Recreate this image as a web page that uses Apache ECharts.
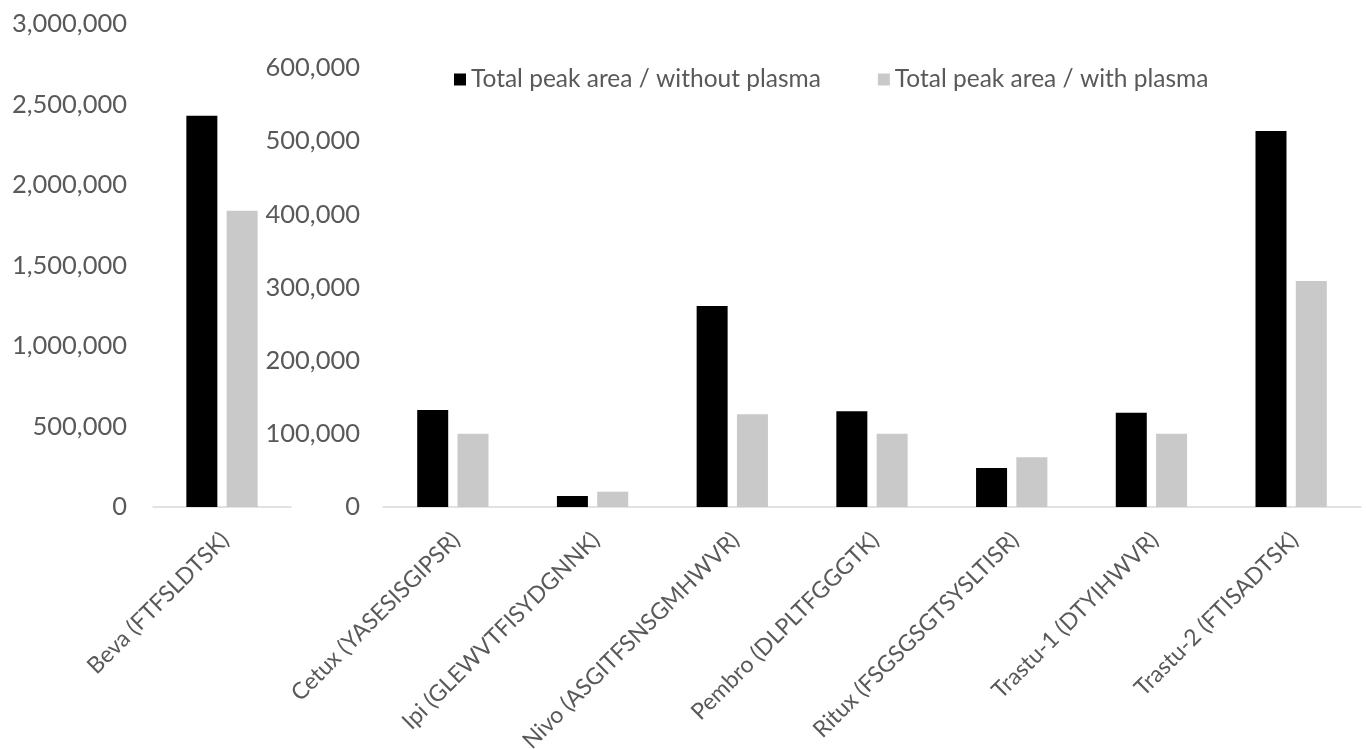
<!DOCTYPE html>
<html>
<head>
<meta charset="utf-8">
<script src="https://cdn.jsdelivr.net/npm/echarts@6/dist/echarts.min.js"></script>
<style>
  html, body { margin: 0; padding: 0; background: #ffffff; }
  #chart { width: 1366px; height: 749px; }
</style>
</head>
<body>
<div id="chart"></div>
<script>
// Peptide categories: Beva on its own scale, the rest share a second scale
const bevaCategories = ['Beva (FTFSLDTSK)'];
const otherCategories = [
  'Cetux (YASESISGIPSR)',
  'Ipi (GLEWVTFISYDGNNK)',
  'Nivo (ASGITFSNSGMHWVR)',
  'Pembro (DLPLTFGGGTK)',
  'Ritux (FSGSGSGTSYSLTISR)',
  'Trastu-1 (DTYIHWVR)',
  'Trastu-2 (FTISADTSK)'
];

const seriesNames = ['Total peak area / without plasma', 'Total peak area / with plasma'];

const bevaWithout = [2430000];
const bevaWith = [1840000];
const otherWithout = [132600, 15000, 274700, 130800, 53300, 128900, 514000];
const otherWith = [100200, 20900, 126700, 100200, 67900, 100200, 309000];

const FONT = 'Lato';
const TEXT = '#595959';
const AXIS = '#d9d9d9';

const fmt = v => Number(v).toLocaleString('en-US');

const chart = echarts.init(document.getElementById('chart'), null, { renderer: 'canvas' });

function xAxisFor(gridIndex, data) {
  return {
    type: 'category',
    gridIndex,
    data,
    axisLine: { lineStyle: { color: AXIS, width: 1.5 } },
    axisTick: { show: false },
    axisLabel: {
      rotate: 45,
      interval: 0,
      margin: 16,
      verticalAlign: 'top',
      padding: [0, 7, 0, 0],
      color: TEXT,
      fontFamily: FONT,
      fontSize: 23
    }
  };
}

function yAxisFor(gridIndex, max, interval, margin) {
  return {
    type: 'value',
    gridIndex,
    min: 0,
    max,
    interval,
    axisLine: { show: false },
    axisTick: { show: false },
    splitLine: { show: false },
    axisLabel: {
      margin,
      color: TEXT,
      fontFamily: FONT,
      fontSize: 25.5,
      formatter: fmt
    }
  };
}

function bars(name, data, color, axisIndex) {
  return {
    name,
    type: 'bar',
    xAxisIndex: axisIndex,
    yAxisIndex: axisIndex,
    data,
    barWidth: 31,
    barGap: '30%',
    itemStyle: { color },
    emphasis: { disabled: true }
  };
}

chart.setOption({
  animation: false,
  backgroundColor: '#ffffff',
  legend: {
    data: seriesNames,
    left: 449,
    top: 62,
    itemWidth: 12,
    itemHeight: 12,
    itemGap: 57,
    icon: 'rect',
    textStyle: { color: TEXT, fontFamily: FONT, fontSize: 24.5 }
  },
  grid: [
    { left: 153, width: 138, top: 24, height: 483, outerBoundsMode: 'none' },
    { left: 383, width: 978, top: 68, height: 439, outerBoundsMode: 'none' }
  ],
  xAxis: [xAxisFor(0, bevaCategories), xAxisFor(1, otherCategories)],
  yAxis: [yAxisFor(0, 3000000, 500000, 26), yAxisFor(1, 600000, 100000, 23)],
  series: [
    bars(seriesNames[0], bevaWithout, '#000000', 0),
    bars(seriesNames[1], bevaWith, '#c9c9c9', 0),
    bars(seriesNames[0], otherWithout, '#000000', 1),
    bars(seriesNames[1], otherWith, '#c9c9c9', 1)
  ]
});
</script>
</body>
</html>
